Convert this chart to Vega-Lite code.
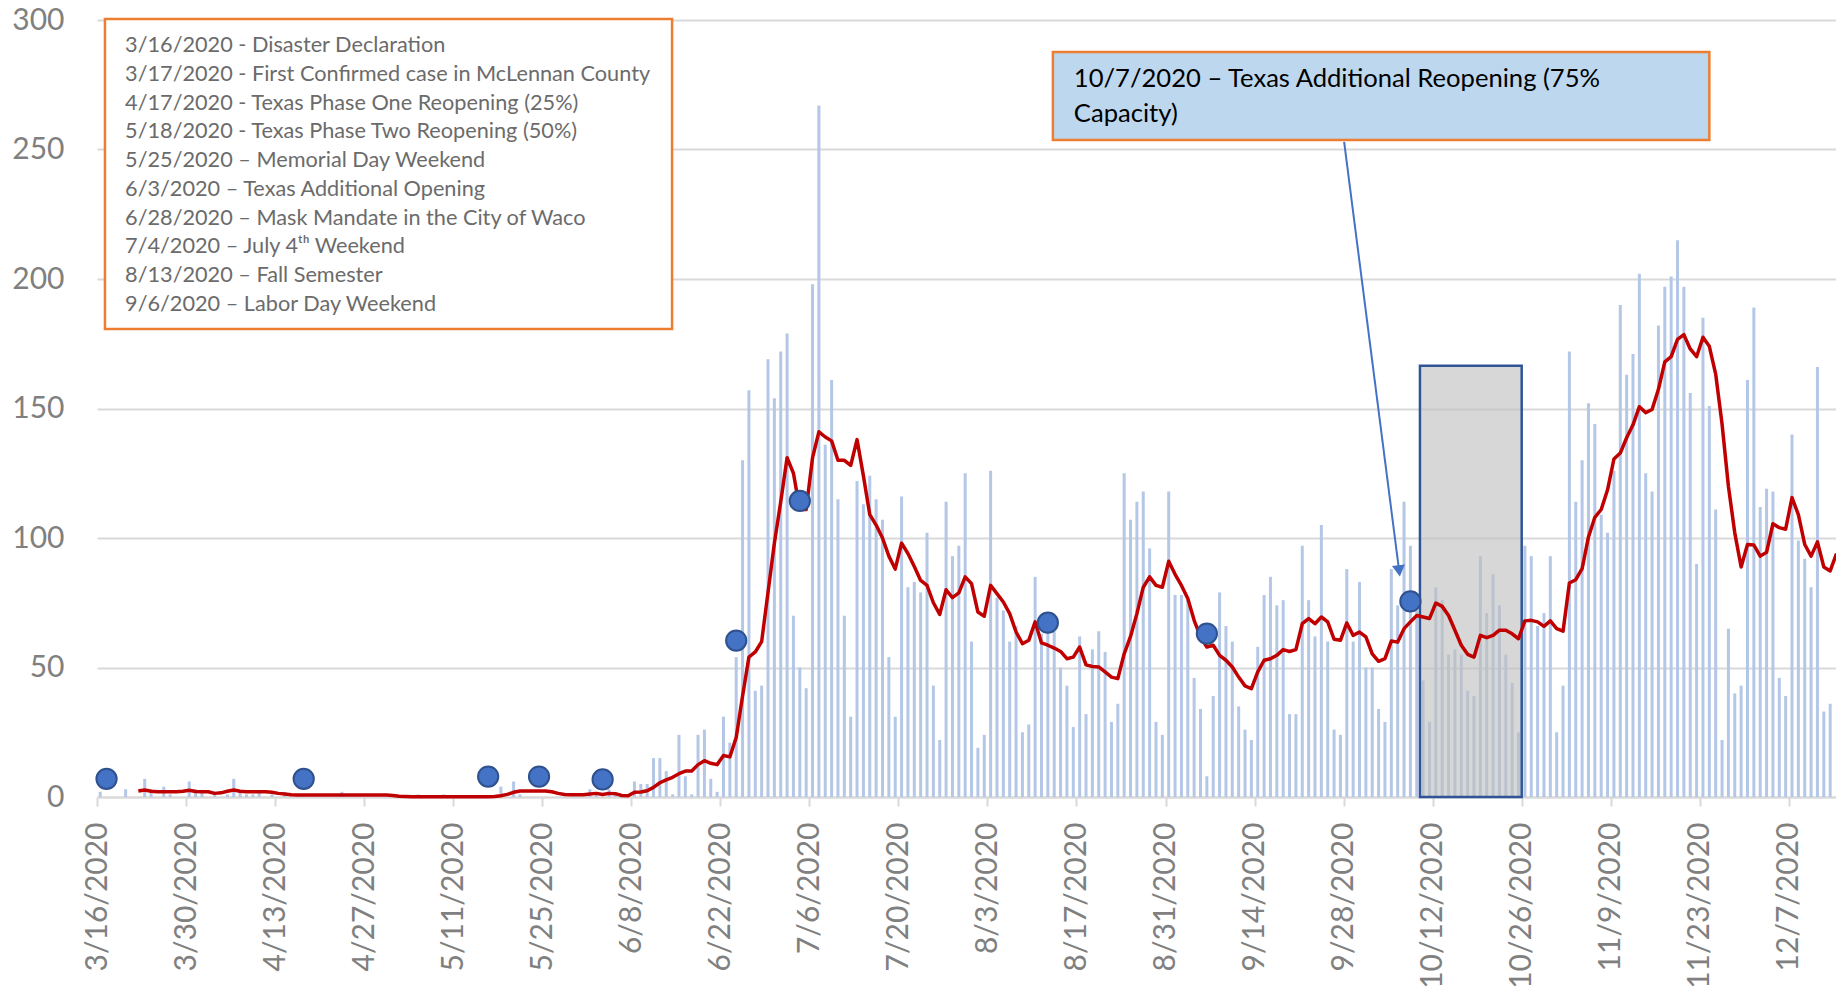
{
  "$schema": "https://vega.github.io/schema/vega-lite/v6.json",
  "width": 1739,
  "height": 777,
  "autosize": {"type": "none"},
  "padding": {"left": 97, "top": 20, "right": 0, "bottom": 191},
  "background": "white",
  "config": {"view": {"stroke": null}, "font": "Lato"},
  "datasets": {
    "daily": [
      {"d":"2020-03-16","c":2},{"d":"2020-03-17","c":0},{"d":"2020-03-18","c":0},{"d":"2020-03-19","c":0},{"d":"2020-03-20","c":3},{"d":"2020-03-21","c":0},
      {"d":"2020-03-22","c":0,"a":2.3},{"d":"2020-03-23","c":7,"a":2.7},{"d":"2020-03-24","c":3,"a":2.2},{"d":"2020-03-25","c":0,"a":2},{"d":"2020-03-26","c":4,"a":2},{"d":"2020-03-27","c":1,"a":2},{"d":"2020-03-28","c":0,"a":2},{"d":"2020-03-29","c":0,"a":2.2},{"d":"2020-03-30","c":6,"a":2.6},{"d":"2020-03-31","c":3,"a":2.1},
      {"d":"2020-04-01","c":2,"a":2},{"d":"2020-04-02","c":0,"a":2},{"d":"2020-04-03","c":2,"a":1.4},{"d":"2020-04-04","c":0,"a":1.6},{"d":"2020-04-05","c":1,"a":2.2},{"d":"2020-04-06","c":7,"a":2.7},{"d":"2020-04-07","c":2,"a":2.2},{"d":"2020-04-08","c":1,"a":2},{"d":"2020-04-09","c":1,"a":2},{"d":"2020-04-10","c":2,"a":2},{"d":"2020-04-11","c":0,"a":2},{"d":"2020-04-12","c":1,"a":1.8},{"d":"2020-04-13","c":0,"a":1.4},{"d":"2020-04-14","c":2,"a":1.2},{"d":"2020-04-15","c":0,"a":0.9},{"d":"2020-04-16","c":1,"a":0.8},{"d":"2020-04-17","c":0,"a":0.8},{"d":"2020-04-18","c":0,"a":0.8},{"d":"2020-04-19","c":0,"a":0.8},{"d":"2020-04-20","c":0,"a":0.8},{"d":"2020-04-21","c":0,"a":0.8},{"d":"2020-04-22","c":0,"a":0.8},{"d":"2020-04-23","c":2,"a":0.8},{"d":"2020-04-24","c":0,"a":0.8},{"d":"2020-04-25","c":0,"a":0.8},{"d":"2020-04-26","c":0,"a":0.8},{"d":"2020-04-27","c":0,"a":0.8},{"d":"2020-04-28","c":0,"a":0.8},{"d":"2020-04-29","c":0,"a":0.8},{"d":"2020-04-30","c":0,"a":0.8},
      {"d":"2020-05-01","c":0,"a":0.6},{"d":"2020-05-02","c":0,"a":0.3},{"d":"2020-05-03","c":0,"a":0.2},{"d":"2020-05-04","c":0,"a":0.1},{"d":"2020-05-05","c":1,"a":0.1},{"d":"2020-05-06","c":0,"a":0.1},{"d":"2020-05-07","c":0,"a":0.1},{"d":"2020-05-08","c":0,"a":0.1},{"d":"2020-05-09","c":1,"a":0.1},{"d":"2020-05-10","c":0,"a":0.1},{"d":"2020-05-11","c":0,"a":0.1},{"d":"2020-05-12","c":0,"a":0.1},{"d":"2020-05-13","c":0,"a":0.1},{"d":"2020-05-14","c":0,"a":0.1},{"d":"2020-05-15","c":0,"a":0.1},{"d":"2020-05-16","c":0,"a":0.1},{"d":"2020-05-17","c":0,"a":0.2},{"d":"2020-05-18","c":4,"a":0.5},{"d":"2020-05-19","c":0,"a":1.0},{"d":"2020-05-20","c":6,"a":1.8},{"d":"2020-05-21","c":1,"a":2.3},{"d":"2020-05-22","c":0,"a":2.3},{"d":"2020-05-23","c":0,"a":2.3},{"d":"2020-05-24","c":0,"a":2.3},{"d":"2020-05-25","c":0,"a":2.3},{"d":"2020-05-26","c":0,"a":2.0},{"d":"2020-05-27","c":0,"a":1.4},{"d":"2020-05-28","c":0,"a":1.0},{"d":"2020-05-29","c":0,"a":0.9},{"d":"2020-05-30","c":0,"a":0.9},{"d":"2020-05-31","c":0,"a":0.9},
      {"d":"2020-06-01","c":3,"a":1.2},{"d":"2020-06-02","c":1,"a":1.4},{"d":"2020-06-03","c":0,"a":1.0},{"d":"2020-06-04","c":3,"a":1.4},{"d":"2020-06-05","c":1,"a":1.3},{"d":"2020-06-06","c":0,"a":0.6},{"d":"2020-06-07","c":0,"a":0.5},{"d":"2020-06-08","c":6,"a":1.8},{"d":"2020-06-09","c":5,"a":1.9},{"d":"2020-06-10","c":5,"a":2.4},{"d":"2020-06-11","c":15,"a":3.7},{"d":"2020-06-12","c":15,"a":5.5},{"d":"2020-06-13","c":10,"a":6.6},{"d":"2020-06-14","c":1,"a":7.6},{"d":"2020-06-15","c":24,"a":9},{"d":"2020-06-16","c":8,"a":10},{"d":"2020-06-17","c":1,"a":10},{"d":"2020-06-18","c":24,"a":12.5},{"d":"2020-06-19","c":26,"a":14},{"d":"2020-06-20","c":7,"a":13},{"d":"2020-06-21","c":2,"a":12.5},{"d":"2020-06-22","c":31,"a":16},{"d":"2020-06-23","c":21,"a":15.5},{"d":"2020-06-24","c":54,"a":23},{"d":"2020-06-25","c":130,"a":39},{"d":"2020-06-26","c":157,"a":54},{"d":"2020-06-27","c":41,"a":56},{"d":"2020-06-28","c":43,"a":60},{"d":"2020-06-29","c":169,"a":79},{"d":"2020-06-30","c":154,"a":98},
      {"d":"2020-07-01","c":172,"a":114},{"d":"2020-07-02","c":179,"a":131},{"d":"2020-07-03","c":70,"a":125},{"d":"2020-07-04","c":50,"a":111},{"d":"2020-07-05","c":42,"a":111},{"d":"2020-07-06","c":198,"a":131},{"d":"2020-07-07","c":267,"a":141},{"d":"2020-07-08","c":136,"a":139},{"d":"2020-07-09","c":161,"a":137.5},{"d":"2020-07-10","c":115,"a":130},{"d":"2020-07-11","c":70,"a":130},{"d":"2020-07-12","c":31,"a":128},{"d":"2020-07-13","c":122,"a":138},{"d":"2020-07-14","c":113,"a":124},{"d":"2020-07-15","c":124,"a":109},{"d":"2020-07-16","c":115,"a":105},{"d":"2020-07-17","c":107,"a":100},{"d":"2020-07-18","c":54,"a":93},{"d":"2020-07-19","c":31,"a":88},{"d":"2020-07-20","c":116,"a":98},{"d":"2020-07-21","c":81,"a":94},{"d":"2020-07-22","c":83,"a":89},{"d":"2020-07-23","c":79,"a":83.6},{"d":"2020-07-24","c":102,"a":81.7},{"d":"2020-07-25","c":43,"a":75},{"d":"2020-07-26","c":22,"a":70.5},{"d":"2020-07-27","c":114,"a":80},{"d":"2020-07-28","c":93,"a":77},{"d":"2020-07-29","c":97,"a":78.8},{"d":"2020-07-30","c":125,"a":85},{"d":"2020-07-31","c":60,"a":82.4},
      {"d":"2020-08-01","c":19,"a":71.4},{"d":"2020-08-02","c":24,"a":69.8},{"d":"2020-08-03","c":126,"a":81.7},{"d":"2020-08-04","c":77,"a":78.5},{"d":"2020-08-05","c":72,"a":75.3},{"d":"2020-08-06","c":60,"a":70.8},{"d":"2020-08-07","c":66,"a":63.7},{"d":"2020-08-08","c":25,"a":59.2},{"d":"2020-08-09","c":28,"a":60.5},{"d":"2020-08-10","c":85,"a":67.6},{"d":"2020-08-11","c":63,"a":59.5},{"d":"2020-08-12","c":65,"a":58.6},{"d":"2020-08-13","c":64,"a":57.5},{"d":"2020-08-14","c":50,"a":56.2},{"d":"2020-08-15","c":43,"a":53.4},{"d":"2020-08-16","c":27,"a":54},{"d":"2020-08-17","c":62,"a":57.9},{"d":"2020-08-18","c":32,"a":51},{"d":"2020-08-19","c":57,"a":50.4},{"d":"2020-08-20","c":64,"a":50.2},{"d":"2020-08-21","c":56,"a":48.3},{"d":"2020-08-22","c":29,"a":46.3},{"d":"2020-08-23","c":36,"a":45.7},{"d":"2020-08-24","c":125,"a":55.3},{"d":"2020-08-25","c":107,"a":62},{"d":"2020-08-26","c":114,"a":70.8},{"d":"2020-08-27","c":118,"a":81},{"d":"2020-08-28","c":96,"a":85},{"d":"2020-08-29","c":29,"a":81.7},{"d":"2020-08-30","c":24,"a":81},{"d":"2020-08-31","c":118,"a":91},
      {"d":"2020-09-01","c":78,"a":86},{"d":"2020-09-02","c":78,"a":81.7},{"d":"2020-09-03","c":76,"a":76.6},{"d":"2020-09-04","c":46,"a":68.2},{"d":"2020-09-05","c":34,"a":61.8},{"d":"2020-09-06","c":8,"a":57.9},{"d":"2020-09-07","c":39,"a":58.6},{"d":"2020-09-08","c":79,"a":54.7},{"d":"2020-09-09","c":66,"a":52.8},{"d":"2020-09-10","c":60,"a":50.2},{"d":"2020-09-11","c":35,"a":46.3},{"d":"2020-09-12","c":26,"a":42.9},{"d":"2020-09-13","c":22,"a":41.8},{"d":"2020-09-14","c":58,"a":48.3},{"d":"2020-09-15","c":78,"a":52.8},{"d":"2020-09-16","c":85,"a":53.4},{"d":"2020-09-17","c":74,"a":54.7},{"d":"2020-09-18","c":76,"a":56.9},{"d":"2020-09-19","c":32,"a":56.2},{"d":"2020-09-20","c":32,"a":56.9},{"d":"2020-09-21","c":97,"a":66.9},{"d":"2020-09-22","c":76,"a":68.9},{"d":"2020-09-23","c":62,"a":66.9},{"d":"2020-09-24","c":105,"a":69.5},{"d":"2020-09-25","c":60,"a":67.6},{"d":"2020-09-26","c":26,"a":60.9},{"d":"2020-09-27","c":24,"a":60.5},{"d":"2020-09-28","c":88,"a":67.2},{"d":"2020-09-29","c":60,"a":62.4},{"d":"2020-09-30","c":83,"a":63.7},
      {"d":"2020-10-01","c":50,"a":61.8},{"d":"2020-10-02","c":50,"a":55.3},{"d":"2020-10-03","c":34,"a":52.4},{"d":"2020-10-04","c":29,"a":53.4},{"d":"2020-10-05","c":88,"a":60.2},{"d":"2020-10-06","c":74,"a":59.8},{"d":"2020-10-07","c":114,"a":65},{"d":"2020-10-08","c":97,"a":67.6},{"d":"2020-10-09","c":72,"a":70.1},{"d":"2020-10-10","c":45,"a":69.5},{"d":"2020-10-11","c":29,"a":68.9},{"d":"2020-10-12","c":81,"a":74.9},{"d":"2020-10-13","c":76,"a":73.6},{"d":"2020-10-14","c":55,"a":70.1},{"d":"2020-10-15","c":57,"a":64.4},{"d":"2020-10-16","c":55,"a":58.6},{"d":"2020-10-17","c":41,"a":55.1},{"d":"2020-10-18","c":39,"a":54},{"d":"2020-10-19","c":93,"a":62.4},{"d":"2020-10-20","c":71,"a":61.5},{"d":"2020-10-21","c":86,"a":62.4},{"d":"2020-10-22","c":74,"a":64.4},{"d":"2020-10-23","c":55,"a":64.4},{"d":"2020-10-24","c":44,"a":63},{"d":"2020-10-25","c":25,"a":61.1},{"d":"2020-10-26","c":97,"a":68},{"d":"2020-10-27","c":93,"a":68.2},{"d":"2020-10-28","c":66,"a":67.6},{"d":"2020-10-29","c":71,"a":65.9},{"d":"2020-10-30","c":93,"a":68},{"d":"2020-10-31","c":25,"a":65},
      {"d":"2020-11-01","c":43,"a":64},{"d":"2020-11-02","c":172,"a":82.6},{"d":"2020-11-03","c":114,"a":83.9},{"d":"2020-11-04","c":130,"a":88.2},{"d":"2020-11-05","c":152,"a":100.4},{"d":"2020-11-06","c":144,"a":108},{"d":"2020-11-07","c":109,"a":111},{"d":"2020-11-08","c":102,"a":118.6},{"d":"2020-11-09","c":126,"a":130.5},{"d":"2020-11-10","c":190,"a":132.8},{"d":"2020-11-11","c":163,"a":138.7},{"d":"2020-11-12","c":171,"a":143.7},{"d":"2020-11-13","c":202,"a":150.7},{"d":"2020-11-14","c":125,"a":148.4},{"d":"2020-11-15","c":118,"a":149.6},{"d":"2020-11-16","c":182,"a":157.4},{"d":"2020-11-17","c":197,"a":168},{"d":"2020-11-18","c":201,"a":170},{"d":"2020-11-19","c":215,"a":176.7},{"d":"2020-11-20","c":197,"a":178.5},{"d":"2020-11-21","c":156,"a":173},{"d":"2020-11-22","c":90,"a":170},{"d":"2020-11-23","c":185,"a":177.5},{"d":"2020-11-24","c":151,"a":174},{"d":"2020-11-25","c":111,"a":163.3},{"d":"2020-11-26","c":22,"a":144},{"d":"2020-11-27","c":65,"a":120},{"d":"2020-11-28","c":40,"a":102},{"d":"2020-11-29","c":43,"a":88.8},{"d":"2020-11-30","c":161,"a":97.5},
      {"d":"2020-12-01","c":189,"a":97.3},{"d":"2020-12-02","c":112,"a":93},{"d":"2020-12-03","c":119,"a":94.5},{"d":"2020-12-04","c":118,"a":105.5},{"d":"2020-12-05","c":46,"a":104},{"d":"2020-12-06","c":39,"a":103.4},{"d":"2020-12-07","c":140,"a":115.6},{"d":"2020-12-08","c":99,"a":109},{"d":"2020-12-09","c":92,"a":97.5},{"d":"2020-12-10","c":81,"a":93},{"d":"2020-12-11","c":166,"a":98.5},{"d":"2020-12-12","c":33,"a":88.8},{"d":"2020-12-13","c":36,"a":87.3},{"d":"2020-12-14","a":94}
    ],
    "events": [
      {"d":"2020-03-17","v":7},{"d":"2020-04-17","v":7},{"d":"2020-05-16","v":7.9},{"d":"2020-05-24","v":7.9},{"d":"2020-06-03","v":6.8},
      {"d":"2020-06-24","v":60.4},{"d":"2020-07-04","v":114.3},{"d":"2020-08-12","v":67.3},{"d":"2020-09-06","v":63.1},{"d":"2020-10-08","v":75.5}
    ],
    "period": [{"x":"2020-10-10","x2":"2020-10-26","y":0,"y2":166.5}],
    "arrow": [{"x":"2020-09-28T02:00:00Z","y":252.9,"x2":"2020-10-06T17:30:00Z","y2":87.3}],
    "legendbox": [{"x":"2020-03-17T06:00:00Z","x2":"2020-06-14T10:00:00Z","y":300.4,"y2":180.7,
      "t":"3/16/2020 - Disaster Declaration\n3/17/2020 - First Confirmed case in McLennan County\n4/17/2020 - Texas Phase One Reopening (25%)\n5/18/2020 - Texas Phase Two Reopening (50%)\n5/25/2020 – Memorial Day Weekend\n6/3/2020 – Texas Additional Opening\n6/28/2020 – Mask Mandate in the City of Waco\n7/4/2020 – July 4ᵗʰ Weekend\n8/13/2020 – Fall Semester\n9/6/2020 – Labor Day Weekend",
      "tx":"2020-03-20T10:00:00Z","ty":287.5}],
    "callout": [{"x":"2020-08-13T07:00:00Z","x2":"2020-11-24T12:00:00Z","y":287.6,"y2":253.7,
      "t":"10/7/2020 – Texas Additional Reopening (75%\nCapacity)","tx":"2020-08-16T14:00:00Z","ty":274.1}]
  },
  "layer": [
    {
      "data": {"name": "daily"},
      "mark": {"type": "bar", "color": "#B4C7E7", "width": 3},
      "encoding": {
        "x": {"field": "d", "type": "temporal", "timeUnit": "utcyearmonthdate", "bandPosition": 0.5, "title": null,
          "scale": {"type": "utc", "domain": [{"year": 2020, "month": 3, "date": 16, "utc": true}, {"year": 2020, "month": 12, "date": 14, "hours": 10, "utc": true}]},
          "axis": {
            "values": [
              {"year":2020,"month":3,"date":16,"utc":true},{"year":2020,"month":3,"date":30,"utc":true},{"year":2020,"month":4,"date":13,"utc":true},{"year":2020,"month":4,"date":27,"utc":true},
              {"year":2020,"month":5,"date":11,"utc":true},{"year":2020,"month":5,"date":25,"utc":true},{"year":2020,"month":6,"date":8,"utc":true},{"year":2020,"month":6,"date":22,"utc":true},
              {"year":2020,"month":7,"date":6,"utc":true},{"year":2020,"month":7,"date":20,"utc":true},{"year":2020,"month":8,"date":3,"utc":true},{"year":2020,"month":8,"date":17,"utc":true},
              {"year":2020,"month":8,"date":31,"utc":true},{"year":2020,"month":9,"date":14,"utc":true},{"year":2020,"month":9,"date":28,"utc":true},{"year":2020,"month":10,"date":12,"utc":true},
              {"year":2020,"month":10,"date":26,"utc":true},{"year":2020,"month":11,"date":9,"utc":true},{"year":2020,"month":11,"date":23,"utc":true},{"year":2020,"month":12,"date":7,"utc":true}
            ],
            "format": "%-m/%-d/%Y",
            "labelAngle": 270, "labelAlign": "right", "labelBaseline": "middle",
            "labelFont": "Lato", "labelFontSize": 30, "labelColor": "#808080", "labelPadding": 16,
            "labelOverlap": false, "labelFlush": false,
            "tickSize": 9, "tickColor": "#d9d9d9", "tickWidth": 2,
            "domainColor": "#d9d9d9", "domainWidth": 2, "grid": false
          }
        },
        "y": {"field": "c", "type": "quantitative", "title": null,
          "scale": {"domain": [0, 300], "nice": false, "zero": true},
          "axis": {"values": [0, 50, 100, 150, 200, 250, 300], "grid": true, "gridColor": "#d9d9d9", "gridWidth": 2,
            "domain": false, "ticks": false, "labelFont": "Lato", "labelFontSize": 30, "labelColor": "#808080", "labelPadding": 33}
        }
      }
    },
    {
      "data": {"name": "period"},
      "mark": {"type": "rect", "fill": "#bfbfbf", "fillOpacity": 0.62, "stroke": "#2F5597", "strokeWidth": 2.5},
      "encoding": {
        "x": {"field": "x", "type": "temporal", "title": null},
        "x2": {"field": "x2"},
        "y": {"field": "y", "type": "quantitative", "title": null},
        "y2": {"field": "y2"}
      }
    },
    {
      "data": {"name": "daily"},
      "transform": [{"filter": "isValid(datum.a)"}],
      "mark": {"type": "line", "color": "#C00000", "strokeWidth": 3.5, "strokeJoin": "round"},
      "encoding": {
        "x": {"field": "d", "type": "temporal", "timeUnit": "utcyearmonthdate", "bandPosition": 0.5, "title": null},
        "y": {"field": "a", "type": "quantitative", "title": null}
      }
    },
    {
      "data": {"name": "events"},
      "mark": {"type": "circle", "size": 410, "fill": "#4472C4", "stroke": "#2F528F", "strokeWidth": 2, "opacity": 1},
      "encoding": {
        "x": {"field": "d", "type": "temporal", "timeUnit": "utcyearmonthdate", "bandPosition": 0.5, "title": null},
        "y": {"field": "v", "type": "quantitative", "title": null}
      }
    },
    {
      "data": {"name": "arrow"},
      "mark": {"type": "rule", "color": "#4472C4", "strokeWidth": 2},
      "encoding": {
        "x": {"field": "x", "type": "temporal", "title": null},
        "y": {"field": "y", "type": "quantitative", "title": null},
        "x2": {"field": "x2"},
        "y2": {"field": "y2"}
      }
    },
    {
      "data": {"name": "arrow"},
      "mark": {"type": "point", "shape": "triangle-down", "filled": true, "color": "#4472C4", "size": 170, "angle": -7.3, "opacity": 1},
      "encoding": {
        "x": {"field": "x2", "type": "temporal", "title": null},
        "y": {"field": "y2", "type": "quantitative", "title": null}
      }
    },
    {
      "data": {"name": "legendbox"},
      "mark": {"type": "rect", "fill": "white", "stroke": "#ED7D31", "strokeWidth": 2.5},
      "encoding": {
        "x": {"field": "x", "type": "temporal", "title": null},
        "x2": {"field": "x2"},
        "y": {"field": "y", "type": "quantitative", "title": null},
        "y2": {"field": "y2"}
      }
    },
    {
      "data": {"name": "legendbox"},
      "mark": {"type": "text", "align": "left", "baseline": "alphabetic", "font": "Lato", "fontSize": 21.7, "color": "#6b6b6b", "lineBreak": "\n", "lineHeight": 28.7},
      "encoding": {
        "x": {"field": "tx", "type": "temporal", "title": null},
        "y": {"field": "ty", "type": "quantitative", "title": null},
        "text": {"field": "t"}
      }
    },
    {
      "data": {"name": "callout"},
      "mark": {"type": "rect", "fill": "#BDD7EE", "stroke": "#ED7D31", "strokeWidth": 2.5},
      "encoding": {
        "x": {"field": "x", "type": "temporal", "title": null},
        "x2": {"field": "x2"},
        "y": {"field": "y", "type": "quantitative", "title": null},
        "y2": {"field": "y2"}
      }
    },
    {
      "data": {"name": "callout"},
      "mark": {"type": "text", "align": "left", "baseline": "alphabetic", "font": "Lato", "fontSize": 25.6, "color": "#000000", "lineBreak": "\n", "lineHeight": 35},
      "encoding": {
        "x": {"field": "tx", "type": "temporal", "title": null},
        "y": {"field": "ty", "type": "quantitative", "title": null},
        "text": {"field": "t"}
      }
    }
  ]
}
